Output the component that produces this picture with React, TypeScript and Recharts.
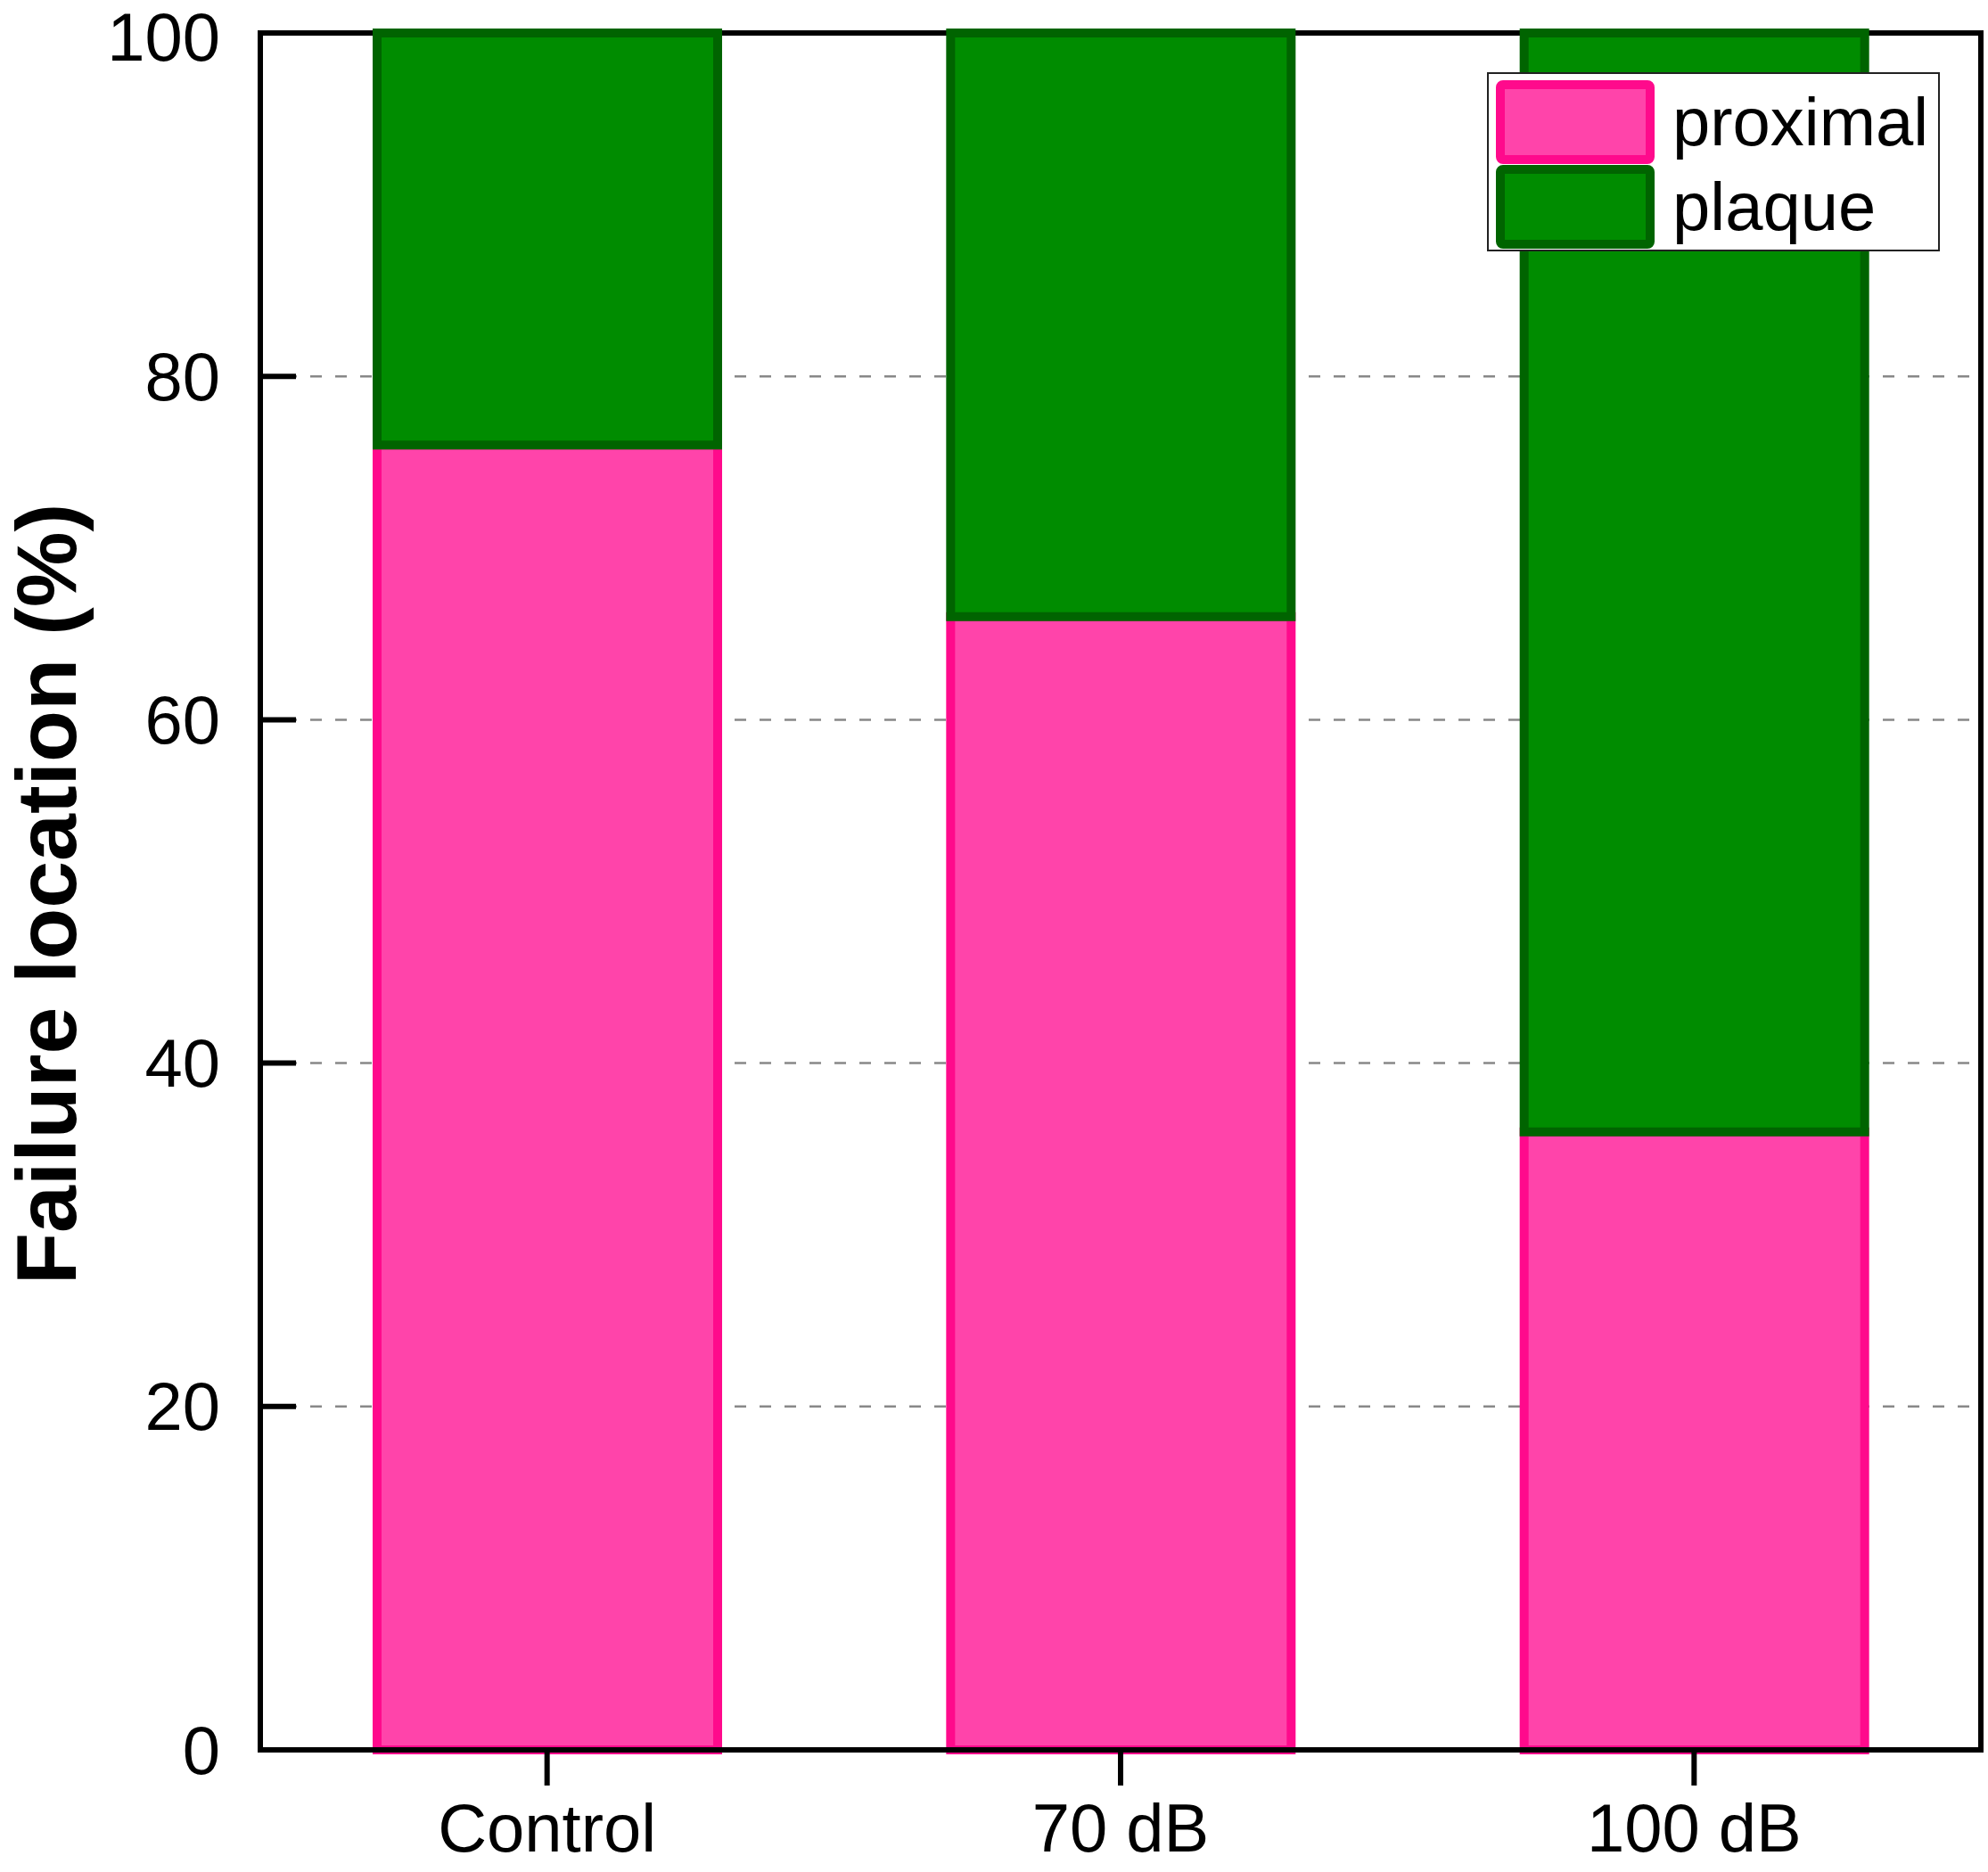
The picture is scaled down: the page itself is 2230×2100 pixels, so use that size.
import React from 'react';
import { BarChart, Bar, XAxis, YAxis, CartesianGrid, ReferenceArea } from 'recharts';

const categories = ['Control', '70 dB', '100 dB'];
const proximal = [76, 66, 36];
const plaque = [24, 34, 64];
const yTicks = [0, 20, 40, 60, 80, 100];
const seriesNames = ['proximal', 'plaque'];

const data = categories.map((c, i) => ({ name: c, proximal: proximal[i], plaque: plaque[i] }));

const FONT = "'Liberation Sans', Arial, Helvetica, sans-serif";
const PINK_FILL = '#FF44AA';
const PINK_STROKE = '#FF0A8C';
const GREEN_FILL = '#008C00';
const GREEN_STROKE = '#006400';
const seriesColors = [
  { fill: PINK_FILL, stroke: PINK_STROKE },
  { fill: GREEN_FILL, stroke: GREEN_STROKE },
];

const YTick = (props: any) => {
  const { x, y, payload } = props;
  const ty = Math.max(y, 41);
  return (
    <g>
      {payload.value !== 0 && payload.value !== 100 ? (
        <line x1={x + 45} x2={x + 85} y1={y} y2={y} stroke="#000" strokeWidth={6} />
      ) : null}
      <text x={x} y={ty} textAnchor="end" dominantBaseline="central" fontSize={76} fontFamily={FONT} fill="#000">
        {payload.value}
      </text>
    </g>
  );
};

const YTitle = () => (
  <text
    x={52}
    y={1003}
    transform="rotate(-90 52 1003)"
    textAnchor="middle"
    dominantBaseline="central"
    fontSize={95}
    fontWeight="bold"
    fontFamily={FONT}
    fill="#000"
  >
    Failure location (%)
  </text>
);

const LegendBox = () => (
  <div
    style={{
      position: 'absolute',
      left: 1668,
      top: 81,
      width: 508,
      height: 201,
      boxSizing: 'border-box',
      border: '2px solid #222',
      background: '#fff',
      paddingTop: 6,
      paddingLeft: 8,
      fontFamily: FONT,
    }}
  >
    {seriesNames.map((name, i) => (
      <div key={name} style={{ display: 'flex', alignItems: 'center', height: 95 }}>
        <div
          style={{
            width: 178,
            height: 94,
            boxSizing: 'border-box',
            background: seriesColors[i].fill,
            border: `10px solid ${seriesColors[i].stroke}`,
            borderRadius: 8,
          }}
        />
        <span style={{ fontSize: 76, marginLeft: 20, color: '#000', lineHeight: 1 }}>{name}</span>
      </div>
    ))}
  </div>
);

export default function App() {
  return (
    <div style={{ position: 'absolute', left: 0, top: 0, width: 2230, height: 2100, background: '#fff' }}>
      <BarChart
        width={2230}
        height={2100}
        data={data}
        margin={{ top: 37, right: 8, left: 92, bottom: 37 }}
        barSize={382}
      >
        <CartesianGrid horizontal vertical={false} stroke="#888" strokeWidth={2.5} strokeDasharray="13 15" />
        <XAxis
          dataKey="name"
          height={100}
          tickSize={40}
          tickMargin={20}
          axisLine={{ stroke: '#000', strokeWidth: 6 }}
          tickLine={{ stroke: '#000', strokeWidth: 6 }}
          tick={{ fontSize: 76, fontFamily: FONT, fill: '#000' }}
        />
        <YAxis
          width={200}
          domain={[0, 100]}
          ticks={yTicks}
          tickLine={false}
          tickSize={0}
          tickMargin={45}
          axisLine={{ stroke: '#000', strokeWidth: 6 }}
          tick={<YTick />}
          label={{ content: () => <YTitle /> }}
        />
        {seriesNames.map((name, i) => (
          <Bar
            key={name}
            dataKey={name}
            stackId="a"
            fill={seriesColors[i].fill}
            stroke={seriesColors[i].stroke}
            strokeWidth={10}
            isAnimationActive={false}
          />
        ))}
        <ReferenceArea y1={0} y2={100} fill="none" fillOpacity={0} stroke="#000" strokeWidth={6} ifOverflow="visible" />
      </BarChart>
      <LegendBox />
    </div>
  );
}
